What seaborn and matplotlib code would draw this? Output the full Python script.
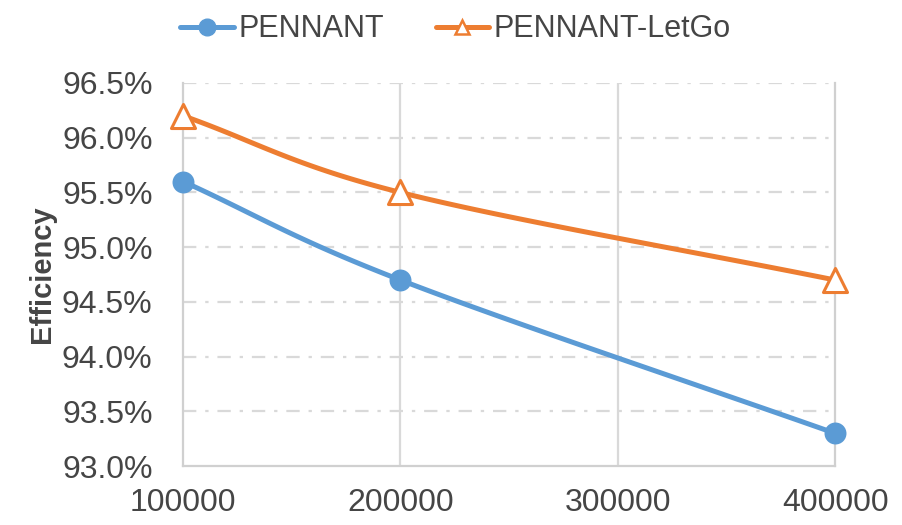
import numpy as np
import pandas as pd
import matplotlib
matplotlib.use("Agg")
import matplotlib.pyplot as plt
from matplotlib.lines import Line2D
from matplotlib.ticker import FuncFormatter
import seaborn as sns

# values
sizes = [100000, 200000, 400000]
pennant = [95.6, 94.7, 93.3]
pennant_letgo = [96.2, 95.5, 94.7]
series_names = ["PENNANT", "PENNANT-LetGo"]

x_ticks = [100000, 200000, 300000, 400000]
y_ticks = [93.0, 93.5, 94.0, 94.5, 95.0, 95.5, 96.0, 96.5]

sns.set_style("white")
plt.rcParams["font.family"] = ["Liberation Sans", "DejaVu Sans"]

blue = "#5B9BD5"
orange = "#ED7D31"
grid_col = "#D9D9D9"
text_col = "#454545"


def smooth(xs, ys, n=60):
    # Catmull-Rom style smoothing, like Excel's "smoothed line"
    xs = np.asarray(xs, float)
    ys = np.asarray(ys, float)
    px = np.concatenate([[2 * xs[0] - xs[1]], xs, [2 * xs[-1] - xs[-2]]])
    py = np.concatenate([[2 * ys[0] - ys[1]], ys, [2 * ys[-1] - ys[-2]]])
    out_x, out_y = [], []
    for i in range(1, len(px) - 2):
        t = np.linspace(0, 1, n)
        p0, p1, p2, p3 = (np.array([px[j], py[j]]) for j in range(i - 1, i + 3))
        c1 = p1 + (p2 - p0) / 6
        c2 = p2 - (p3 - p1) / 6
        pts = ((1 - t) ** 3)[:, None] * p1 + (3 * (1 - t) ** 2 * t)[:, None] * c1 \
            + (3 * (1 - t) * t ** 2)[:, None] * c2 + (t ** 3)[:, None] * p2
        out_x.extend(pts[:, 0])
        out_y.extend(pts[:, 1])
    return np.array(out_x), np.array(out_y)


df = pd.DataFrame({
    "size": sizes * 2,
    "eff": pennant + pennant_letgo,
    "series": [series_names[0]] * 3 + [series_names[1]] * 3,
})

fig = plt.figure(figsize=(9.02, 5.25), dpi=100)
ax = fig.add_axes([0.203, 0.112, 0.723, 0.730])

# smooth lines
for vals, col in [(pennant, blue), (pennant_letgo, orange)]:
    sx, sy = smooth(sizes, vals)
    ax.plot(sx, sy, color=col, lw=3.6, zorder=3, solid_capstyle="round", clip_on=False)

# markers
sns.scatterplot(data=df[df.series == series_names[0]], x="size", y="eff",
                ax=ax, color=blue, marker="o", s=250, edgecolor=blue,
                linewidth=0, zorder=4, legend=False, clip_on=False)
sns.scatterplot(data=df[df.series == series_names[1]], x="size", y="eff",
                ax=ax, color="white", marker="^", s=300, edgecolor=orange,
                linewidth=2.2, zorder=4, legend=False, clip_on=False)

ax.set_xlim(100000, 400000)
ax.set_ylim(93.0, 96.5)
ax.set_xticks(x_ticks)
ax.set_yticks(y_ticks)
ax.yaxis.set_major_formatter(FuncFormatter(lambda v, p: f"{v:.1f}%"))
ax.tick_params(axis="both", length=0, labelsize=23, colors=text_col)
ax.tick_params(axis="x", pad=16)
ax.tick_params(axis="y", pad=22)
ax.set_xlabel("")
ax.set_ylabel("Efficiency", fontsize=21, fontweight="bold", color=text_col, labelpad=4)

# grid
ax.grid(False)
for v in y_ticks[1:]:
    ax.axhline(v, color=grid_col, lw=1.6, ls=(0, (6, 4, 1.5, 4)), zorder=1)
for v in x_ticks[1:-1]:
    ax.axvline(v, color=grid_col, lw=1.6, zorder=1)

for side in ["left", "right", "bottom"]:
    ax.spines[side].set_color("#D0D0D0")
    ax.spines[side].set_linewidth(1.6)
ax.spines["top"].set_visible(False)

handles = [
    Line2D([], [], color=blue, lw=3.6, marker="o", markersize=12,
           markerfacecolor=blue, markeredgecolor=blue),
    Line2D([], [], color=orange, lw=3.6, marker="^", markersize=10,
           markerfacecolor="white", markeredgecolor=orange, markeredgewidth=1.8),
]
fig.legend(handles, series_names, loc="upper center", bbox_to_anchor=(0.505, 1.025),
           ncol=2, frameon=False, fontsize=22, handlelength=1.75,
           columnspacing=1.7, handletextpad=0.15, labelcolor=text_col)

fig.savefig("out.png", dpi=100)
